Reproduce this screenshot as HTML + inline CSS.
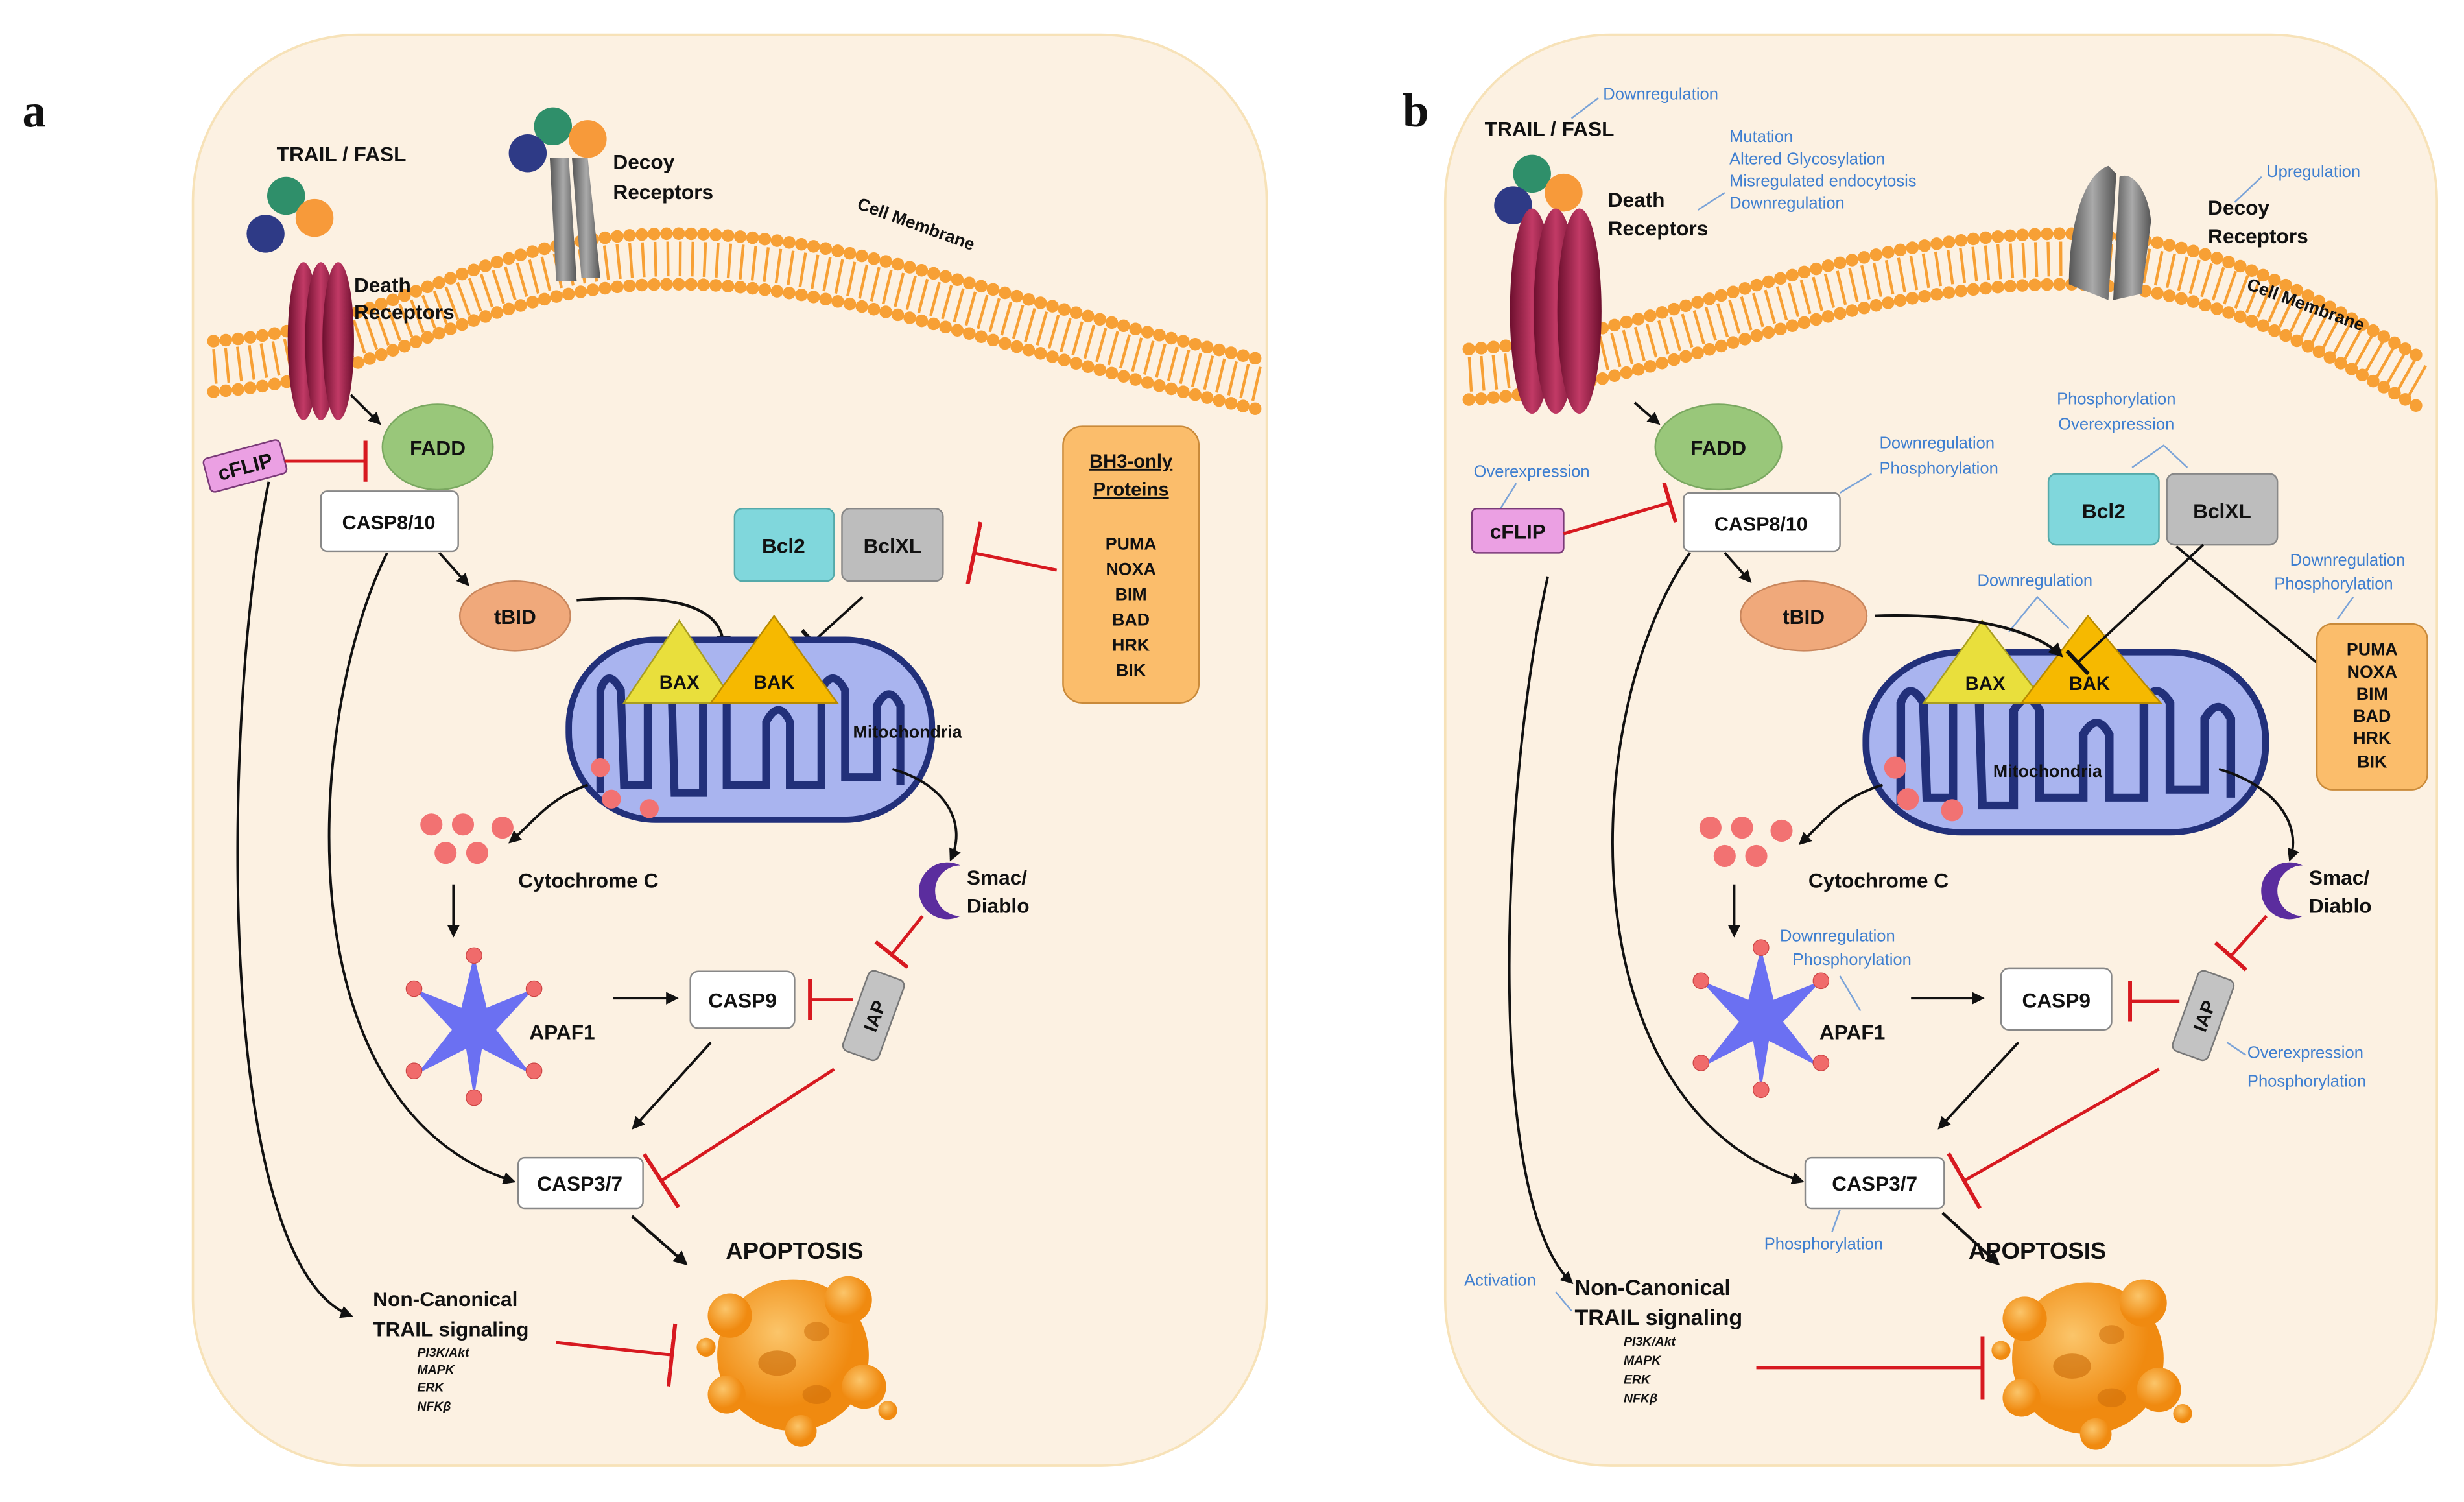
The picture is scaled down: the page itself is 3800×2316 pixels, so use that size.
<!DOCTYPE html>
<html><head><meta charset="utf-8"><style>
html,body{margin:0;padding:0;background:#fff;}
svg{display:block;}
text{font-family:"Liberation Sans",sans-serif;font-weight:bold;fill:#111;}
text.bl{fill:#3f7fd0;font-weight:normal;font-size:10.5px;}
text.sm{font-size:8px;font-style:italic;}
</style></head><body>
<svg width="3800" height="2316" viewBox="0 0 1560 951" xmlns="http://www.w3.org/2000/svg">
<defs>
<marker id="ar" viewBox="0 0 10 10" refX="8" refY="5" markerWidth="5" markerHeight="5" orient="auto"><path d="M0,0L10,5L0,10z" fill="#111"/></marker>
<marker id="tb" viewBox="0 0 4 20" refX="2" refY="10" markerWidth="4" markerHeight="20" markerUnits="userSpaceOnUse" orient="auto"><rect x="0" y="0" width="2.5" height="20" fill="#111"/></marker>
<marker id="tr" viewBox="0 0 4 40" refX="2" refY="20" markerWidth="4" markerHeight="40" markerUnits="userSpaceOnUse" orient="auto"><rect x="0" y="0" width="2.5" height="40" fill="#d71920"/></marker>
<marker id="trs" viewBox="0 0 4 26" refX="2" refY="13" markerWidth="4" markerHeight="26" markerUnits="userSpaceOnUse" orient="auto"><rect x="0" y="0" width="2.5" height="26" fill="#d71920"/></marker>
<radialGradient id="rb" cx="40%" cy="35%"><stop offset="0" stop-color="#fbc56a"/><stop offset="1" stop-color="#f08a10"/></radialGradient>
<linearGradient id="mr" x1="0" x2="1"><stop offset="0" stop-color="#6d0f2e"/><stop offset=".5" stop-color="#c23a66"/><stop offset="1" stop-color="#6d0f2e"/></linearGradient>
<linearGradient id="gr" x1="0" x2="1"><stop offset="0" stop-color="#555"/><stop offset=".5" stop-color="#aaa"/><stop offset="1" stop-color="#555"/></linearGradient>
<g id="mito">
<rect x="-115" y="-57" width="230" height="114" rx="55" fill="#a9b4ef" stroke="#22307a" stroke-width="4"/>
<path d="M-95,40 L-95,-25 Q-90,-40 -82,-25 L-80,35 L-65,35 L-65,-30 Q-58,-45 -50,-30 L-48,40 L-30,40 L-30,-20 Q-22,-35 -15,-20 L-15,35 L10,35 L10,-5 Q18,-20 25,-5 L25,35 L45,35 L45,-25 Q52,-40 60,-25 L60,30 L80,30 L80,-15 Q88,-30 95,-15 L95,35" fill="none" stroke="#22307a" stroke-width="5"/>
</g>
<g id="star" fill="#6b70f2">
<polygon points="0,-45 8,-12 38,-24 14,2 36,30 5,14 0,45 -5,14 -36,30 -14,2 -38,-24 -8,-12"/>
<g fill="#f06b6b" stroke="#c44" stroke-width=".5"><circle cx="0" cy="-45" r="5"/><circle cx="38" cy="-24" r="5"/><circle cx="38" cy="28" r="5"/><circle cx="0" cy="45" r="5"/><circle cx="-38" cy="28" r="5"/><circle cx="-38" cy="-24" r="5"/></g>
</g>
<g id="blob">
<circle cx="0" cy="0" r="48" fill="url(#rb)"/>
<circle cx="-40" cy="-25" r="14" fill="url(#rb)"/><circle cx="35" cy="-35" r="15" fill="url(#rb)"/>
<circle cx="45" cy="20" r="14" fill="url(#rb)"/><circle cx="-42" cy="25" r="12" fill="url(#rb)"/>
<circle cx="5" cy="48" r="10" fill="url(#rb)"/><circle cx="60" cy="35" r="6" fill="url(#rb)"/><circle cx="-55" cy="-5" r="6" fill="url(#rb)"/>
<ellipse cx="-10" cy="5" rx="12" ry="8" fill="#c96a08" opacity=".6"/><ellipse cx="15" cy="-15" rx="8" ry="6" fill="#c96a08" opacity=".5"/><ellipse cx="15" cy="25" rx="9" ry="6" fill="#c96a08" opacity=".5"/>
</g>
<g id="cyt" fill="#f27272"><circle cx="0" cy="0" r="7"/><circle cx="20" cy="0" r="7"/><circle cx="45" cy="2" r="7"/><circle cx="9" cy="18" r="7"/><circle cx="29" cy="18" r="7"/></g>
</defs>

<rect width="1560" height="951" fill="#fff"/>
<rect x="122" y="22" width="680" height="906" rx="105" fill="#fcf1e2" stroke="#f7e2b8" stroke-width="1.5"/>
<rect x="915" y="22" width="628" height="906" rx="105" fill="#fcf1e2" stroke="#f7e2b8" stroke-width="1.5"/>
<text x="14" y="80" style="font-family:'Liberation Serif',serif;font-size:30px">a</text>
<text x="888" y="80" style="font-family:'Liberation Serif',serif;font-size:30px">b</text>

<g fill="none" stroke="#f7a035">
<path d="M135,232 C250,224 300,166 420,164 C540,162 640,209 800,244" stroke-width="22" stroke-dasharray="1.8 6"/>
<path d="M135,216 C250,208 300,150 420,148 C540,146 640,193 800,228" stroke-width="8" stroke-dasharray="0 7.8" stroke-linecap="round"/>
<path d="M135,248 C250,240 300,182 420,180 C540,178 640,225 800,260" stroke-width="8" stroke-dasharray="0 7.8" stroke-linecap="round"/>
<path d="M930,237 C1050,230 1150,167 1300,164 C1400,162 1470,207 1532,242" stroke-width="22" stroke-dasharray="1.8 6"/>
<path d="M930,221 C1050,214 1150,151 1300,148 C1400,146 1470,191 1532,226" stroke-width="8" stroke-dasharray="0 7.8" stroke-linecap="round"/>
<path d="M930,253 C1050,246 1150,183 1300,180 C1400,178 1470,223 1532,258" stroke-width="8" stroke-dasharray="0 7.8" stroke-linecap="round"/>
</g>

<!-- ===== Panel a ===== -->
<text x="175" y="102" font-size="13">TRAIL / FASL</text>
<circle cx="181" cy="124" r="12" fill="#2f8f6a"/><circle cx="199" cy="138" r="12" fill="#f79a3a"/><circle cx="168" cy="148" r="12" fill="#2e3a86"/>
<ellipse cx="192" cy="216" rx="10" ry="50" fill="url(#mr)"/><ellipse cx="203" cy="216" rx="10" ry="50" fill="url(#mr)"/><ellipse cx="214" cy="216" rx="10" ry="50" fill="url(#mr)"/>
<text x="224" y="185" font-size="13">Death</text><text x="224" y="202" font-size="13">Receptors</text>
<circle cx="350" cy="80" r="12" fill="#2f8f6a"/><circle cx="372" cy="88" r="12" fill="#f79a3a"/><circle cx="334" cy="97" r="12" fill="#2e3a86"/>
<path d="M348,100 L360,100 L365,178 L352,178Z" fill="url(#gr)"/><path d="M362,100 L372,100 L380,176 L368,176Z" fill="url(#gr)"/>
<text x="388" y="107" font-size="13">Decoy</text><text x="388" y="126" font-size="13">Receptors</text>
<text x="542" y="132" font-size="11" transform="rotate(20 542 132)">Cell Membrane</text>

<ellipse cx="277" cy="283" rx="35" ry="27" fill="#99c77a" stroke="#7aa860"/>
<text x="277" y="288" font-size="13" text-anchor="middle">FADD</text>
<line x1="222" y1="250" x2="240" y2="268" stroke="#111" stroke-width="1.6" marker-end="url(#ar)"/>
<g transform="rotate(-15 155 295)"><rect x="130" y="284" width="50" height="22" rx="3" fill="#eba0e3" stroke="#7a3a78"/><text x="155" y="300" font-size="13" text-anchor="middle">cFLIP</text></g>
<line x1="180" y1="292" x2="232" y2="292" stroke="#d71920" stroke-width="2" marker-end="url(#trs)"/>
<rect x="203" y="311" width="87" height="38" rx="4" fill="#fff" stroke="#888"/>
<text x="246" y="335" font-size="12.5" text-anchor="middle">CASP8/10</text>
<line x1="278" y1="350" x2="296" y2="370" stroke="#111" stroke-width="1.6" marker-end="url(#ar)"/>
<ellipse cx="326" cy="390" rx="35" ry="22" fill="#f0a97b" stroke="#c9865c"/>
<text x="326" y="395" font-size="13" text-anchor="middle">tBID</text>
<rect x="465" y="322" width="63" height="46" rx="5" fill="#80d7dc" stroke="#5aa"/><text x="496" y="350" font-size="13" text-anchor="middle">Bcl2</text>
<rect x="533" y="322" width="64" height="46" rx="5" fill="#bdbdbd" stroke="#888"/><text x="565" y="350" font-size="13" text-anchor="middle">BclXL</text>
<rect x="673" y="270" width="86" height="175" rx="12" fill="#fbbd6b" stroke="#c98a3a"/>
<text x="716" y="296" font-size="12" text-anchor="middle" text-decoration="underline">BH3-only</text>
<text x="716" y="314" font-size="12" text-anchor="middle" text-decoration="underline">Proteins</text>
<g font-size="11" text-anchor="middle"><text x="716" y="348">PUMA</text><text x="716" y="364">NOXA</text><text x="716" y="380">BIM</text><text x="716" y="396">BAD</text><text x="716" y="412">HRK</text><text x="716" y="428">BIK</text></g>
<line x1="669" y1="361" x2="616" y2="350" stroke="#d71920" stroke-width="2" marker-end="url(#tr)"/>
<line x1="546" y1="378" x2="514" y2="407" stroke="#111" stroke-width="1.6" marker-end="url(#tb)"/>
<path d="M365,380 C430,375 458,385 458,410" fill="none" stroke="#111" stroke-width="1.8" marker-end="url(#ar)"/>
<use href="#mito" x="475" y="462"/>
<text x="540" y="467" font-size="11">Mitochondria</text>
<polygon points="395,445 430,393 465,445" fill="#e9df3c" stroke="#a99e20"/><text x="430" y="436" font-size="12" text-anchor="middle">BAX</text>
<polygon points="450,445 490,390 530,445" fill="#f6b900" stroke="#b78a00"/><text x="490" y="436" font-size="12" text-anchor="middle">BAK</text>
<g fill="#f27272"><circle cx="380" cy="486" r="6"/><circle cx="387" cy="506" r="6"/><circle cx="411" cy="512" r="6"/></g>
<use href="#cyt" x="273" y="522"/>
<path d="M372,497 C348,505 338,520 323,533" fill="none" stroke="#111" stroke-width="1.6" marker-end="url(#ar)"/>
<text x="328" y="562" font-size="13">Cytochrome C</text>
<line x1="287" y1="560" x2="287" y2="592" stroke="#111" stroke-width="1.6" marker-end="url(#ar)"/>
<path d="M565,487 C600,497 612,522 602,544" fill="none" stroke="#111" stroke-width="1.6" marker-end="url(#ar)"/>
<path d="M608,548 A18,18 0 1,0 608,580 A14,14 0 1,1 608,548Z" fill="#5b2d9e"/>
<text x="612" y="560" font-size="13">Smac/</text><text x="612" y="578" font-size="13">Diablo</text>
<line x1="584" y1="580" x2="564" y2="605" stroke="#d71920" stroke-width="2" marker-end="url(#trs)"/>
<g transform="rotate(-70 553 643)"><rect x="526" y="631" width="54" height="24" rx="4" fill="#c3c3c3" stroke="#777"/><text x="553" y="648" font-size="12" text-anchor="middle">IAP</text></g>
<use href="#star" x="300" y="650"/>
<text x="335" y="658" font-size="13">APAF1</text>
<line x1="388" y1="632" x2="428" y2="632" stroke="#111" stroke-width="1.6" marker-end="url(#ar)"/>
<rect x="437" y="615" width="66" height="36" rx="5" fill="#fff" stroke="#888"/><text x="470" y="638" font-size="13" text-anchor="middle">CASP9</text>
<line x1="540" y1="633" x2="512" y2="633" stroke="#d71920" stroke-width="2" marker-end="url(#trs)"/>
<line x1="450" y1="660" x2="401" y2="714" stroke="#111" stroke-width="1.6" marker-end="url(#ar)"/>
<rect x="328" y="733" width="79" height="32" rx="4" fill="#fff" stroke="#888"/><text x="367" y="754" font-size="13" text-anchor="middle">CASP3/7</text>
<path d="M245,350 C195,450 175,700 325,748" fill="none" stroke="#111" stroke-width="1.6" marker-end="url(#ar)"/>
<line x1="528" y1="677" x2="418" y2="748" stroke="#d71920" stroke-width="2" marker-end="url(#tr)"/>
<line x1="400" y1="770" x2="434" y2="800" stroke="#111" stroke-width="1.8" marker-end="url(#ar)"/>
<text x="503" y="797" font-size="15" text-anchor="middle">APOPTOSIS</text>
<use href="#blob" x="502" y="858"/>
<path d="M170,305 C140,450 135,800 222,833" fill="none" stroke="#111" stroke-width="1.6" marker-end="url(#ar)"/>
<text x="236" y="827" font-size="13">Non-Canonical</text><text x="236" y="846" font-size="13">TRAIL signaling</text>
<text class="sm" x="264" y="859">PI3K/Akt</text><text class="sm" x="264" y="870">MAPK</text><text class="sm" x="264" y="881">ERK</text><text class="sm" x="264" y="893">NFKβ</text>
<line x1="352" y1="850" x2="426" y2="858" stroke="#d71920" stroke-width="2" marker-end="url(#tr)"/>

<!-- ===== Panel b ===== -->
<text x="1015" y="63" class="bl">Downregulation</text><line x1="995" y1="75" x2="1012" y2="62" stroke="#7aa3d8"/>
<text x="940" y="86" font-size="13">TRAIL / FASL</text>
<circle cx="970" cy="110" r="12" fill="#2f8f6a"/><circle cx="990" cy="122" r="12" fill="#f79a3a"/><circle cx="958" cy="130" r="12" fill="#2e3a86"/>
<ellipse cx="970" cy="197" rx="14" ry="65" fill="url(#mr)"/><ellipse cx="985" cy="197" rx="14" ry="65" fill="url(#mr)"/><ellipse cx="1000" cy="197" rx="14" ry="65" fill="url(#mr)"/>
<text x="1018" y="131" font-size="13">Death</text><text x="1018" y="149" font-size="13">Receptors</text>
<text class="bl" x="1095" y="90">Mutation</text><text class="bl" x="1095" y="104">Altered Glycosylation</text><text class="bl" x="1095" y="118">Misregulated endocytosis</text><text class="bl" x="1095" y="132">Downregulation</text>
<line x1="1075" y1="133" x2="1092" y2="122" stroke="#7aa3d8"/>
<path d="M1310,180 C1310,140 1320,110 1335,105 L1340,110 L1335,190Z" fill="url(#gr)"/><path d="M1338,190 L1342,112 C1350,108 1360,120 1362,140 L1356,186Z" fill="url(#gr)"/>
<text x="1398" y="136" font-size="13">Decoy</text><text x="1398" y="154" font-size="13">Receptors</text>
<text x="1435" y="112" class="bl">Upregulation</text><line x1="1415" y1="128" x2="1432" y2="112" stroke="#7aa3d8"/>
<text x="1422" y="183" font-size="11" transform="rotate(20 1422 183)">Cell Membrane</text>
<ellipse cx="1088" cy="283" rx="40" ry="27" fill="#99c77a" stroke="#7aa860"/><text x="1088" y="288" font-size="13" text-anchor="middle">FADD</text>
<line x1="1035" y1="255" x2="1050" y2="268" stroke="#111" stroke-width="1.6" marker-end="url(#ar)"/>
<rect x="1066" y="312" width="99" height="37" rx="4" fill="#fff" stroke="#888"/><text x="1115" y="336" font-size="12.5" text-anchor="middle">CASP8/10</text>
<text x="1190" y="284" class="bl">Downregulation</text><text x="1190" y="300" class="bl">Phosphorylation</text><line x1="1165" y1="312" x2="1185" y2="300" stroke="#7aa3d8"/>
<text x="933" y="302" class="bl">Overexpression</text><line x1="950" y1="322" x2="960" y2="306" stroke="#7aa3d8"/>
<rect x="932" y="322" width="58" height="28" rx="3" fill="#eba0e3" stroke="#7a3a78"/><text x="961" y="341" font-size="13" text-anchor="middle">cFLIP</text>
<line x1="990" y1="338" x2="1058" y2="318" stroke="#d71920" stroke-width="2" marker-end="url(#trs)"/>
<line x1="1092" y1="350" x2="1108" y2="368" stroke="#111" stroke-width="1.6" marker-end="url(#ar)"/>
<text x="1340" y="256" class="bl" text-anchor="middle">Phosphorylation</text><text x="1340" y="272" class="bl" text-anchor="middle">Overexpression</text>
<path d="M1350,296 L1370,282 L1385,296" fill="none" stroke="#7aa3d8"/>
<rect x="1297" y="300" width="70" height="45" rx="5" fill="#80d7dc" stroke="#5aa"/><text x="1332" y="328" font-size="13" text-anchor="middle">Bcl2</text>
<rect x="1372" y="300" width="70" height="45" rx="5" fill="#bdbdbd" stroke="#888"/><text x="1407" y="328" font-size="13" text-anchor="middle">BclXL</text>
<ellipse cx="1142" cy="390" rx="40" ry="22" fill="#f0a97b" stroke="#c9865c"/><text x="1142" y="395" font-size="13" text-anchor="middle">tBID</text>
<use href="#mito" transform="translate(1308,470) scale(1.1,1)"/>
<text x="1262" y="492" font-size="11">Mitochondria</text>
<polygon points="1218,445 1255,393 1295,445" fill="#e9df3c" stroke="#a99e20"/><text x="1257" y="437" font-size="12" text-anchor="middle">BAX</text>
<polygon points="1280,445 1322,390 1368,445" fill="#f6b900" stroke="#b78a00"/><text x="1323" y="437" font-size="12" text-anchor="middle">BAK</text>
<text x="1252" y="371" class="bl">Downregulation</text><path d="M1272,400 L1290,378 L1310,398" fill="none" stroke="#7aa3d8"/>
<path d="M1187,390 C1250,388 1290,400 1305,415" fill="none" stroke="#111" stroke-width="1.8" marker-end="url(#ar)"/>
<line x1="1395" y1="345" x2="1315" y2="420" stroke="#111" stroke-width="1.6" marker-end="url(#tb)"/>
<line x1="1378" y1="346" x2="1470" y2="422" stroke="#111" stroke-width="1.6"/>
<text x="1450" y="358" class="bl">Downregulation</text><text x="1440" y="373" class="bl">Phosphorylation</text><line x1="1480" y1="392" x2="1490" y2="378" stroke="#7aa3d8"/>
<rect x="1467" y="395" width="70" height="105" rx="10" fill="#fbbd6b" stroke="#c98a3a"/>
<g font-size="11" text-anchor="middle"><text x="1502" y="415">PUMA</text><text x="1502" y="429">NOXA</text><text x="1502" y="443">BIM</text><text x="1502" y="457">BAD</text><text x="1502" y="471">HRK</text><text x="1502" y="486">BIK</text></g>
<g fill="#f27272"><circle cx="1200" cy="486" r="7"/><circle cx="1208" cy="506" r="7"/><circle cx="1236" cy="513" r="7"/></g>
<use href="#cyt" x="1083" y="524"/>
<path d="M1192,497 C1165,505 1155,520 1140,534" fill="none" stroke="#111" stroke-width="1.6" marker-end="url(#ar)"/>
<text x="1145" y="562" font-size="13">Cytochrome C</text>
<line x1="1098" y1="560" x2="1098" y2="592" stroke="#111" stroke-width="1.6" marker-end="url(#ar)"/>
<path d="M1405,487 C1440,497 1458,522 1450,544" fill="none" stroke="#111" stroke-width="1.6" marker-end="url(#ar)"/>
<path d="M1458,548 A18,18 0 1,0 1458,580 A14,14 0 1,1 1458,548Z" fill="#5b2d9e"/>
<text x="1462" y="560" font-size="13">Smac/</text><text x="1462" y="578" font-size="13">Diablo</text>
<line x1="1435" y1="580" x2="1412" y2="606" stroke="#d71920" stroke-width="2" marker-end="url(#trs)"/>
<g transform="rotate(-70 1395 643)"><rect x="1368" y="631" width="54" height="24" rx="4" fill="#c3c3c3" stroke="#777"/><text x="1395" y="648" font-size="12" text-anchor="middle">IAP</text></g>
<text x="1423" y="670" class="bl">Overexpression</text><text x="1423" y="688" class="bl">Phosphorylation</text><line x1="1410" y1="660" x2="1422" y2="668" stroke="#7aa3d8"/>
<use href="#star" x="1115" y="645"/>
<text x="1152" y="658" font-size="13">APAF1</text>
<text x="1127" y="596" class="bl">Downregulation</text><text x="1135" y="611" class="bl">Phosphorylation</text><line x1="1165" y1="618" x2="1178" y2="640" stroke="#7aa3d8"/>
<line x1="1210" y1="632" x2="1255" y2="632" stroke="#111" stroke-width="1.6" marker-end="url(#ar)"/>
<rect x="1267" y="613" width="70" height="39" rx="5" fill="#fff" stroke="#888"/><text x="1302" y="638" font-size="13" text-anchor="middle">CASP9</text>
<line x1="1380" y1="634" x2="1348" y2="634" stroke="#d71920" stroke-width="2" marker-end="url(#trs)"/>
<line x1="1278" y1="660" x2="1228" y2="714" stroke="#111" stroke-width="1.6" marker-end="url(#ar)"/>
<rect x="1143" y="733" width="88" height="32" rx="4" fill="#fff" stroke="#888"/><text x="1187" y="754" font-size="13" text-anchor="middle">CASP3/7</text>
<text x="1117" y="791" class="bl">Phosphorylation</text><line x1="1165" y1="766" x2="1160" y2="780" stroke="#7aa3d8"/>
<path d="M1070,350 C1000,450 990,700 1141,748" fill="none" stroke="#111" stroke-width="1.6" marker-end="url(#ar)"/>
<line x1="1367" y1="677" x2="1243" y2="748" stroke="#d71920" stroke-width="2" marker-end="url(#tr)"/>
<line x1="1230" y1="768" x2="1265" y2="800" stroke="#111" stroke-width="1.8" marker-end="url(#ar)"/>
<text x="1290" y="797" font-size="15" text-anchor="middle">APOPTOSIS</text>
<use href="#blob" x="1322" y="860"/>
<path d="M980,365 C950,500 940,760 995,812" fill="none" stroke="#111" stroke-width="1.6" marker-end="url(#ar)"/>
<text x="927" y="814" class="bl">Activation</text><line x1="985" y1="818" x2="995" y2="830" stroke="#7aa3d8"/>
<text x="997" y="820" font-size="14">Non-Canonical</text><text x="997" y="839" font-size="14">TRAIL signaling</text>
<text class="sm" x="1028" y="852">PI3K/Akt</text><text class="sm" x="1028" y="864">MAPK</text><text class="sm" x="1028" y="876">ERK</text><text class="sm" x="1028" y="888">NFKβ</text>
<line x1="1112" y1="866" x2="1256" y2="866" stroke="#d71920" stroke-width="2" marker-end="url(#tr)"/>
</svg>
</body></html>
